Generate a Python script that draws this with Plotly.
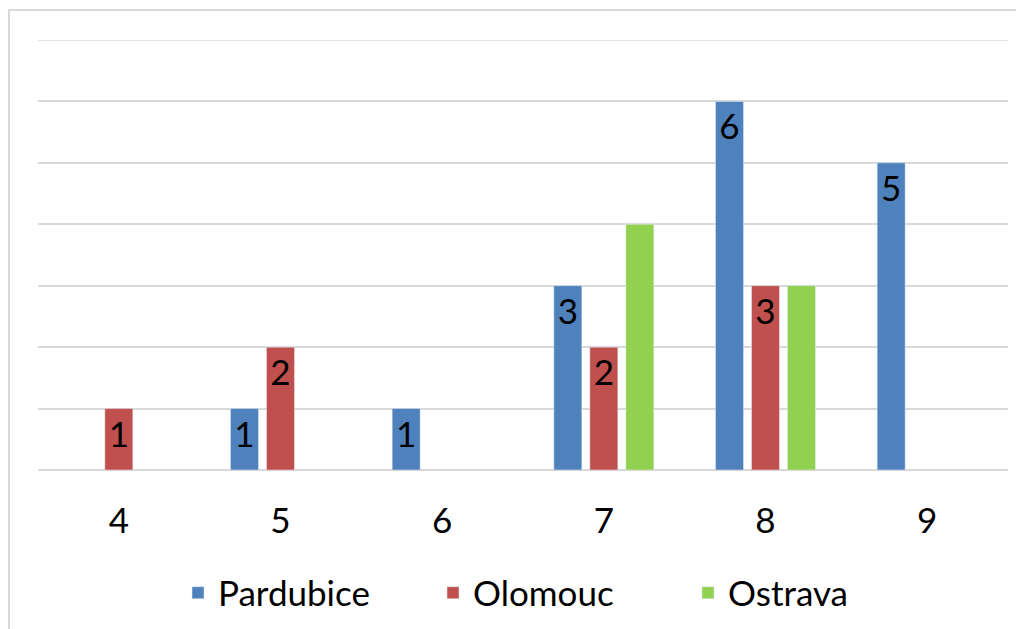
import plotly.graph_objects as go

categories = ["4", "5", "6", "7", "8", "9"]
pardubice = [None, 1, 1, 3, 6, 5]
olomouc = [1, 2, None, 2, 3, None]
ostrava = [None, None, None, 4, 3, None]

FONT = "Lato"
FS = 35

fig = go.Figure()
fig.add_bar(name="Pardubice", x=categories, y=pardubice, marker_color="#4F81BD",
            text=pardubice, textposition="inside", insidetextanchor="end",
            textangle=0, insidetextfont=dict(color="black", size=FS, family=FONT))
fig.add_bar(name="Olomouc", x=categories, y=olomouc, marker_color="#C0504D",
            text=olomouc, textposition="inside", insidetextanchor="end",
            textangle=0, insidetextfont=dict(color="black", size=FS, family=FONT))
fig.add_bar(name="Ostrava", x=categories, y=ostrava, marker_color="#92D050",
            textposition="none")

# page has an 8px body margin; figure placed at (8, 8)
OFF = 8
W, H = 1016, 621
L, R, T = 38 - OFF, 16, 40 - OFF
B = H - (470 - OFF)
pw, ph = W - L - R, H - T - B

def px_x(x):
    return (x - OFF - L) / pw

def px_y(y):
    return ((470 - OFF) - (y - OFF)) / ph

YMAX = 7

fig.update_layout(
    width=W, height=H,
    margin=dict(l=L, r=R, t=T, b=B, autoexpand=False),
    paper_bgcolor="white", plot_bgcolor="white",
    font=dict(family=FONT, size=FS, color="black"),
    barmode="group", bargap=0.332, bargroupgap=0.222,
    showlegend=True,
    legend=dict(orientation="h", x=px_x(178), xanchor="left", y=px_y(593),
                yanchor="middle", font=dict(size=FS, family=FONT),
                entrywidth=210, entrywidthmode="pixels"),
    xaxis=dict(showgrid=False, showline=False, ticks="", ticklabelstandoff=27,
               tickfont=dict(size=FS, family=FONT)),
    yaxis=dict(range=[0, YMAX], dtick=1, showticklabels=False, showgrid=True,
               gridcolor="#D9D9D9", gridwidth=1.5, zeroline=True,
               zerolinecolor="#D9D9D9", zerolinewidth=1.5, showline=False),
    shapes=[
        dict(type="rect", xref="paper", yref="paper",
             x0=px_x(9), x1=px_x(1040),
             y0=px_y(650), y1=px_y(10),
             line=dict(color="#D9D9D9", width=2), fillcolor="rgba(0,0,0,0)",
             layer="below"),
        dict(type="line", xref="paper", yref="y", x0=0, x1=1, y0=YMAX, y1=YMAX,
             line=dict(color="#D9D9D9", width=1.5), layer="below"),
    ],
)

fig.write_html("out.html")
